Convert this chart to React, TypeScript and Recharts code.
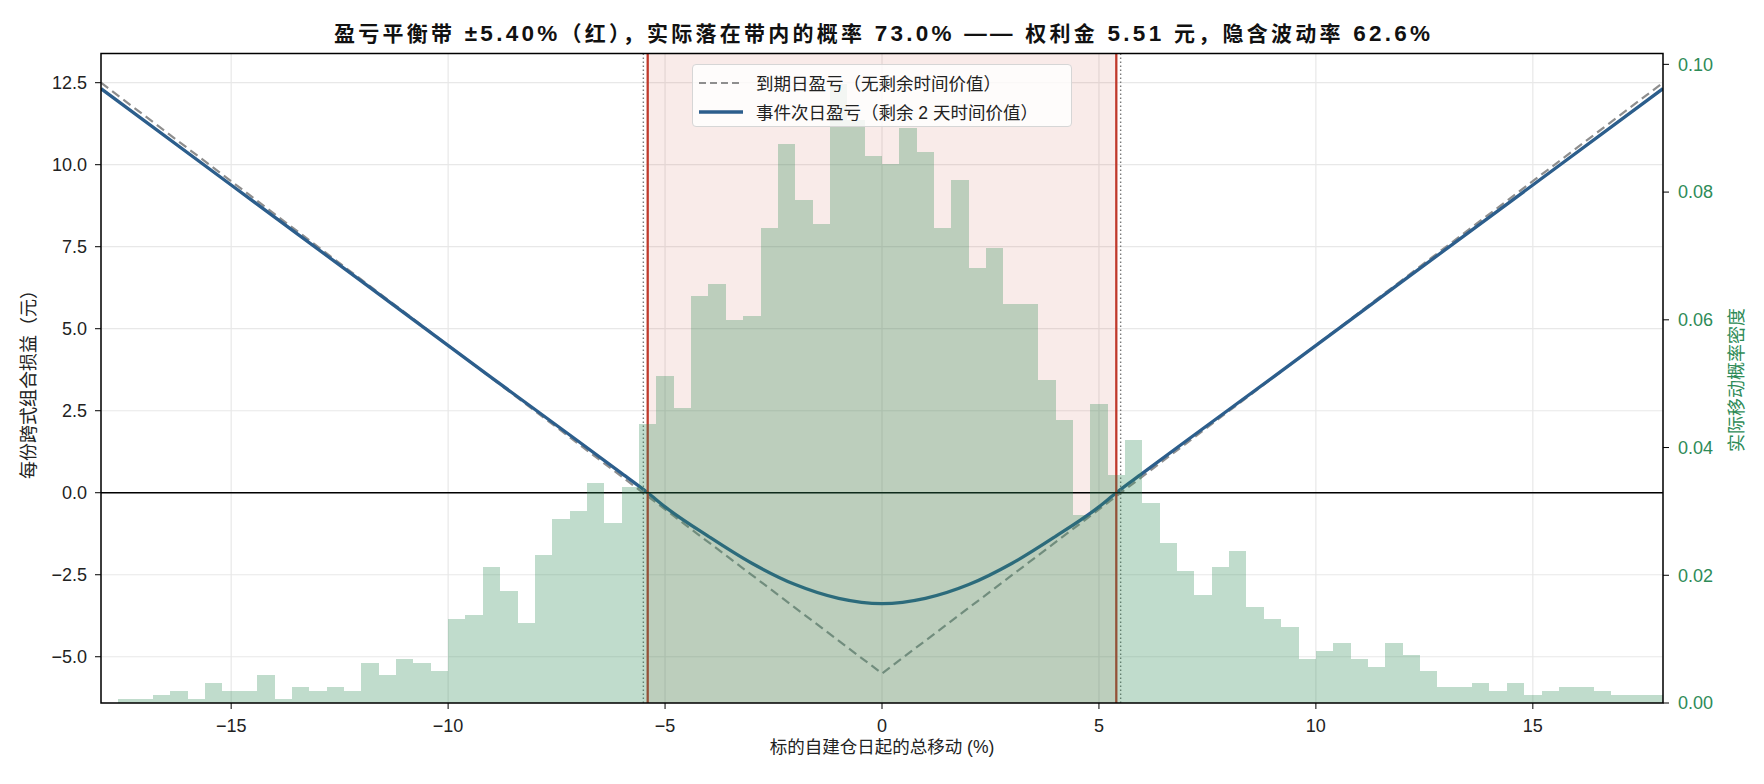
import React from 'react';
import {
  ComposedChart,
  Bar,
  Line,
  XAxis,
  YAxis,
  CartesianGrid,
  ReferenceArea,
  ReferenceLine,
  Legend,
  Label,
} from 'recharts';

// histogram of realised moves: 90 bins of 0.4% from -18% to 18%, 4000 samples
const BIN_START = -18;
const BIN_WIDTH = 0.4;
const SAMPLE_SIZE = 4000;
const binCounts = [
  0, 1, 1, 2, 3, 1, 5, 3, 3, 7, 1, 4, 3, 4, 3, 10, 7, 11, 10, 8, 21, 22, 34,
  28, 20, 37, 46, 48, 55, 45, 54, 70, 82, 74, 102, 105, 96, 97, 119, 140, 126, 120, 155, 146, 137, 135,
  144, 138, 119, 131, 109, 114, 100, 100, 81, 71, 47, 75, 57, 66, 50, 40, 33, 27, 34, 38, 24, 21,
  19, 11, 13, 15, 11, 9, 15, 12, 8, 4, 4, 5, 3, 5, 2, 3, 4, 4, 3, 2, 2, 2,
];

// P&L curves (yuan per straddle) against total move (%)
const expiryX = [-18, 0, 18];
const expiryPnl = [12.5, -5.51, 12.5];
const nextDayX = [-18, -15, -12, -9, -7, -6, -5.4, -5, -4, -3, -2, -1, 0, 1, 2, 3, 4, 5, 5.4, 6, 7, 9, 12, 15, 18];
const nextDayPnl = [
  12.32, 9.38, 6.45, 3.51, 1.57, 0.59, 0.0, -0.43, -1.33, -2.15, -2.8, -3.22, -3.38,
  -3.22, -2.8, -2.15, -1.33, -0.43, 0.0, 0.59, 1.57, 3.51, 6.45, 9.38, 12.32,
];

const breakevenBand = [-5.4, 5.4];
const expiryBreakevens = [-5.5, 5.5];

const xTicks = [-15, -10, -5, 0, 5, 10, 15];
const pnlTicks = [-5, -2.5, 0, 2.5, 5, 7.5, 10, 12.5];
const densityTicks = [0, 0.02, 0.04, 0.06, 0.08, 0.1];

const X_DOMAIN = [-18, 18];
const PNL_DOMAIN = [-6.41, 13.39];
const DENSITY_DOMAIN = [0, 0.1017];

// title pieces: [text, isLatin]
const titleParts: [string, boolean][] = [
  ['盈亏平衡带', false],
  [' ±5.40%', true],
  ['（红），实际落在带内的概率', false],
  [' 73.0% —— ', true],
  ['权利金', false],
  [' 5.51 ', true],
  ['元，隐含波动率', false],
  [' 62.6%', true],
];
const X_LABEL = '标的自建仓日起的总移动 (%)';
const LEFT_LABEL = '每份跨式组合损益（元）';
const RIGHT_LABEL = '实际移动概率密度';

const BLUE = '#2c5e8c';
const GREY = '#8e8e8e';
const RED = '#c0392b';
const GREEN = '#2e8b57';

const legendItems = [
  { label: '到期日盈亏（无剩余时间价值）', color: GREY, dash: '7 4', width: 2.2 },
  { label: '事件次日盈亏（剩余 2 天时间价值）', color: BLUE, dash: undefined, width: 3.4 },
];

const histData = binCounts.map((c, i) => ({
  x: BIN_START + BIN_WIDTH * (i + 0.5),
  density: c / (SAMPLE_SIZE * BIN_WIDTH),
}));
const expiryData = expiryX.map((x, i) => ({ x, pnl: expiryPnl[i] }));
const nextDayData = nextDayX.map((x, i) => ({ x, pnl: nextDayPnl[i] }));

const minus = (s: string) => s.replace('-', '\u2212');

const FONT = "'Liberation Sans', 'Noto Sans CJK SC', sans-serif";

function LegendBox() {
  return (
    <div
      style={{
        width: 380,
        height: 63,
        boxSizing: 'border-box',
        border: '1px solid #d6d6d6',
        borderRadius: 4,
        background: 'rgba(255,255,255,0.82)',
        paddingTop: 3,
      }}
    >
      {legendItems.map((it) => (
        <div key={it.label} style={{ display: 'flex', alignItems: 'center', height: 29, paddingLeft: 5 }}>
          <svg width={46} height={10} style={{ flex: 'none' }}>
            <line x1={1} y1={5} x2={45} y2={5} stroke={it.color} strokeWidth={it.width} strokeDasharray={it.dash} />
          </svg>
          <span style={{ marginLeft: 12, fontSize: 17.5, color: '#222', whiteSpace: 'nowrap' }}>{it.label}</span>
        </div>
      ))}
    </div>
  );
}

// bars drawn edge to edge; crisp edges avoid hairline seams between bins
function HistBar(p: any) {
  return (
    <rect
      x={p.x}
      y={p.y}
      width={p.width}
      height={Math.max(0, p.height)}
      fill={GREEN}
      fillOpacity={0.3}
      shapeRendering="crispEdges"
    />
  );
}

export default function App() {
  return (
    <div style={{ position: 'absolute', left: 0, top: 0, width: 1764, height: 784, fontFamily: FONT, background: '#fff' }}>
      <ComposedChart
        width={1764}
        height={784}
        data={histData}
        barCategoryGap={0}
        margin={{ top: 53.5, right: 0, bottom: 0, left: 0 }}
      >
        <CartesianGrid yAxisId="left" stroke="#e8e8e8" strokeWidth={1.2} />
        <XAxis
          dataKey="x"
          type="number"
          domain={X_DOMAIN}
          ticks={xTicks}
          allowDataOverflow
          height={81}
          axisLine={false}
          tickLine={{ stroke: '#000' }}
          tickSize={6}
          tickMargin={10}
          tick={{ fontSize: 18, fill: '#222' }}
          tickFormatter={(v) => minus(String(v))}
        >
          <Label
            content={() => (
              <text x={882} y={747} textAnchor="middle" dominantBaseline="central" fontSize={17.5} fill="#222">
                {X_LABEL}
              </text>
            )}
          />
        </XAxis>
        <XAxis xAxisId="hist" dataKey="x" type="number" domain={X_DOMAIN} allowDataOverflow hide />
        <YAxis
          yAxisId="left"
          type="number"
          domain={PNL_DOMAIN}
          ticks={pnlTicks}
          allowDataOverflow
          width={101}
          axisLine={false}
          tickLine={{ stroke: '#000' }}
          tickSize={6}
          tickMargin={8}
          tick={{ fontSize: 18, fill: '#222' }}
          tickFormatter={(v) => minus(Number(v).toFixed(1))}
        >
          <Label
            content={() => (
              <text
                x={29}
                y={380}
                textAnchor="middle"
                dominantBaseline="central"
                fontSize={18}
                fill="#222"
                transform="rotate(-90 29 380)"
              >
                {LEFT_LABEL}
              </text>
            )}
          />
        </YAxis>
        <YAxis
          yAxisId="right"
          orientation="right"
          type="number"
          domain={DENSITY_DOMAIN}
          ticks={densityTicks}
          allowDataOverflow
          width={101}
          axisLine={false}
          tickLine={{ stroke: '#000' }}
          tickSize={6}
          tickMargin={9}
          tick={{ fontSize: 18, fill: GREEN }}
          tickFormatter={(v) => Number(v).toFixed(2)}
        >
          <Label
            content={() => (
              <text
                x={1737}
                y={380}
                textAnchor="middle"
                dominantBaseline="central"
                fontSize={18}
                fill={GREEN}
                transform="rotate(-90 1737 380)"
              >
                {RIGHT_LABEL}
              </text>
            )}
          />
        </YAxis>
        <ReferenceArea
          yAxisId="left"
          x1={breakevenBand[0]}
          x2={breakevenBand[1]}
          fill={RED}
          fillOpacity={0.1}
          stroke="none"
          zIndex={50}
        />
        <Line
          data={expiryData}
          yAxisId="left"
          dataKey="pnl"
          type="linear"
          stroke={GREY}
          strokeWidth={2.2}
          strokeDasharray="9 5"
          dot={false}
          activeDot={false}
          isAnimationActive={false}
          zIndex={300}
        />
        <Line
          data={nextDayData}
          yAxisId="left"
          dataKey="pnl"
          type="monotone"
          stroke={BLUE}
          strokeWidth={3.3}
          dot={false}
          activeDot={false}
          isAnimationActive={false}
          zIndex={310}
        />
        {expiryBreakevens.map((x) => (
          <ReferenceLine
            key={'e' + x}
            yAxisId="left"
            x={x}
            stroke="#7a7a7a"
            strokeWidth={1.4}
            strokeDasharray="1.6 2.4"
            zIndex={320}
          />
        ))}
        {breakevenBand.map((x) => (
          <ReferenceLine key={'b' + x} yAxisId="left" x={x} stroke={RED} strokeWidth={2.3} zIndex={330} />
        ))}
        <ReferenceLine yAxisId="left" y={0} stroke="#000" strokeWidth={1.5} zIndex={340} />
        <Bar
          xAxisId="hist"
          yAxisId="right"
          dataKey="density"
          fill={GREEN}
          fillOpacity={0.3}
          barSize={17.355}
          shape={<HistBar />}
          isAnimationActive={false}
          zIndex={450}
        />
        <ReferenceArea
          yAxisId="left"
          x1={X_DOMAIN[0]}
          x2={X_DOMAIN[1]}
          y1={PNL_DOMAIN[0]}
          y2={PNL_DOMAIN[1]}
          fill="none"
          stroke="#000"
          strokeWidth={1.5}
          zIndex={600}
        />
        <Legend
          layout="vertical"
          align="center"
          verticalAlign="middle"
          content={() => <LegendBox />}
          wrapperStyle={{ position: 'absolute', left: 692, top: 64, width: 380, height: 63 }}
        />
      </ComposedChart>
      <svg width={1764} height={60} style={{ position: 'absolute', left: 0, top: 0, pointerEvents: 'none' }}>
        <text
          x={334}
          y={33}
          dominantBaseline="central"
          fontWeight={700}
          fill="#111"
          textLength={1096}
          lengthAdjust="spacing"
          style={{ whiteSpace: 'pre' }}
        >
          {titleParts.map(([t, latin], i) => (
            <tspan key={i} fontSize={latin ? 22.5 : 21}>
              {t}
            </tspan>
          ))}
        </text>
      </svg>
    </div>
  );
}
